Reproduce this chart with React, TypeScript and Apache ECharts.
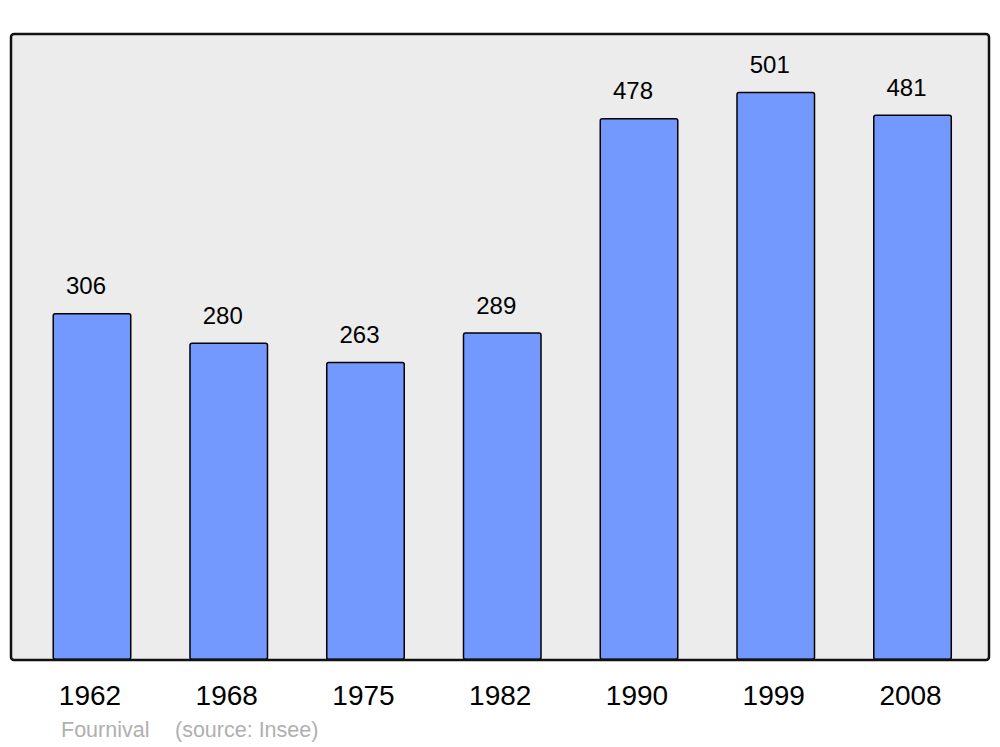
import React, { useEffect, useRef } from "react";
import * as echarts from "echarts";

const years = ["1962", "1968", "1975", "1982", "1990", "1999", "2008"];
const population = [306, 280, 263, 289, 478, 501, 481];
const footerName = "Fournival";
const footerSource = "(source: Insee)";

export default function App() {
  const ref = useRef<HTMLDivElement>(null);
  useEffect(() => {
    document.body.style.margin = "0";
    const chart = echarts.init(ref.current!, null, { renderer: "svg" });
    const font = "'Liberation Sans', Arial, sans-serif";
    chart.setOption({
      animation: false,
      grid: { left: 23.6, right: 19.1, top: 34, bottom: 87 },
      graphic: [
        {
          type: "rect",
          z: -10,
          shape: { x: 11, y: 34, width: 978, height: 626, r: 3 },
          style: { fill: "#ececec", stroke: "none" },
        },
        {
          type: "rect",
          z: 100,
          shape: { x: 11, y: 34, width: 978, height: 626, r: 3 },
          style: { fill: "none", stroke: "#111", lineWidth: 2.5 },
        },
        {
          type: "text",
          x: 61,
          y: 730,
          z: 100,
          style: {
            text: footerName,
            font: `21.5px ${font}`,
            fill: "#b0b0b0",
            verticalAlign: "middle",
          },
        },
        {
          type: "text",
          x: 175,
          y: 730,
          z: 100,
          style: {
            text: footerSource,
            font: `21.5px ${font}`,
            fill: "#b0b0b0",
            verticalAlign: "middle",
          },
        },
      ],
      xAxis: {
        type: "category",
        data: years,
        axisLine: { show: false },
        axisTick: { show: false },
        axisLabel: {
          fontSize: 28,
          fontFamily: font,
          color: "#000",
          margin: 21,
          padding: [0, 4, 0, 0],
        },
      },
      yAxis: {
        type: "value",
        min: 0,
        max: 552,
        show: false,
        splitLine: { show: false },
      },
      series: [
        {
          type: "bar",
          data: population,
          barWidth: 79,
          itemStyle: {
            color: "#7399ff",
            borderColor: "#000",
            borderWidth: 1.5,
            borderRadius: 2,
          },
          label: {
            show: true,
            position: "top",
            distance: 15,
            offset: [-6, 0],
            fontSize: 24,
            fontFamily: font,
            color: "#000",
          },
        },
      ],
    });
    return () => chart.dispose();
  }, []);
  return <div ref={ref} style={{ width: 1000, height: 747 }} />;
}
